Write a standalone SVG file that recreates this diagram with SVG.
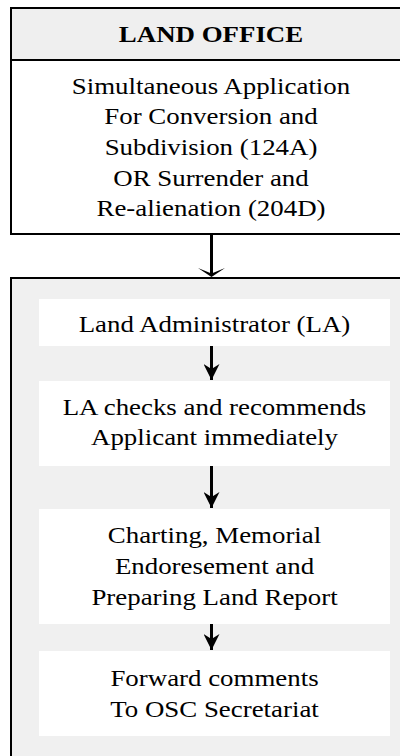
<svg xmlns="http://www.w3.org/2000/svg" width="400" height="756" viewBox="0 0 400 756">
<defs>
<style>
text{font-family:"Liberation Serif","Times New Roman",serif;font-size:24px;fill:#000;text-anchor:middle}
.hdr{font-weight:bold}
.frame{stroke:#000;stroke-width:2}
.inner{fill:#fff;stroke:none}
.conn{stroke:#000;fill:none;stroke-width:3}
.head{fill:#000;stroke:none}
</style>
<marker id="ah" viewBox="0 0 16 16" refX="16" refY="8" markerWidth="16" markerHeight="16" markerUnits="userSpaceOnUse" orient="auto">
<path d="M0,0 L16,8 L0,16 L5,8 Z" fill="#000"/>
</marker>
</defs>
<rect width="400" height="756" fill="#fff"/>
<g id="land-office">
<rect class="frame" x="11" y="8" width="402" height="226" fill="#fff"/>
<rect class="frame" x="11" y="8" width="402" height="52" fill="#efefef"/>
<g transform="translate(211,0) scale(1.12,1)">
<text class="hdr" x="0" y="42">LAND OFFICE</text>
<text x="0" y="94">Simultaneous Application</text>
<text x="0" y="124">For Conversion and</text>
<text x="0" y="155">Subdivision (124A)</text>
<text x="0" y="186">OR Surrender and</text>
<text x="0" y="216">Re-alienation (204D)</text>
</g>
</g>
<g id="process">
<rect class="frame" x="11" y="278" width="402" height="490" fill="#f0f0f0"/>
</g>
<g id="la">
<rect class="inner" x="39" y="299" width="351" height="47"/>
<text x="0" y="332" transform="translate(214.5,0) scale(1.12,1)">Land Administrator (LA)</text>
</g>
<g id="checks">
<rect class="inner" x="39" y="381" width="351" height="85"/>
<g transform="translate(214.5,0) scale(1.12,1)">
<text x="0" y="415">LA checks and recommends</text>
<text x="0" y="445">Applicant immediately</text>
</g>
</g>
<g id="charting">
<rect class="inner" x="39" y="509" width="351" height="115"/>
<g transform="translate(214.5,0) scale(1.12,1)">
<text x="0" y="543">Charting, Memorial</text>
<text x="0" y="574">Endoresement and</text>
<text x="0" y="605">Preparing Land Report</text>
</g>
</g>
<g id="forward">
<rect class="inner" x="39" y="651" width="351" height="85"/>
<g transform="translate(214.5,0) scale(1.12,1)">
<text x="0" y="686">Forward comments</text>
<text x="0" y="717">To OSC Secretariat</text>
</g>
</g>
<g id="connectors">
<line class="conn" x1="211.5" y1="235" x2="211.5" y2="274" stroke-width="4"/>
<path class="head" d="M198,268 L211.5,277 L225,268 L211.5,273.5 Z"/>
<line class="conn" x1="211.5" y1="346" x2="211.5" y2="380" marker-end="url(#ah)"/>
<line class="conn" x1="211.5" y1="466" x2="211.5" y2="508" marker-end="url(#ah)"/>
<line class="conn" x1="211.5" y1="624" x2="211.5" y2="650" marker-end="url(#ah)"/>
</g>
</svg>
